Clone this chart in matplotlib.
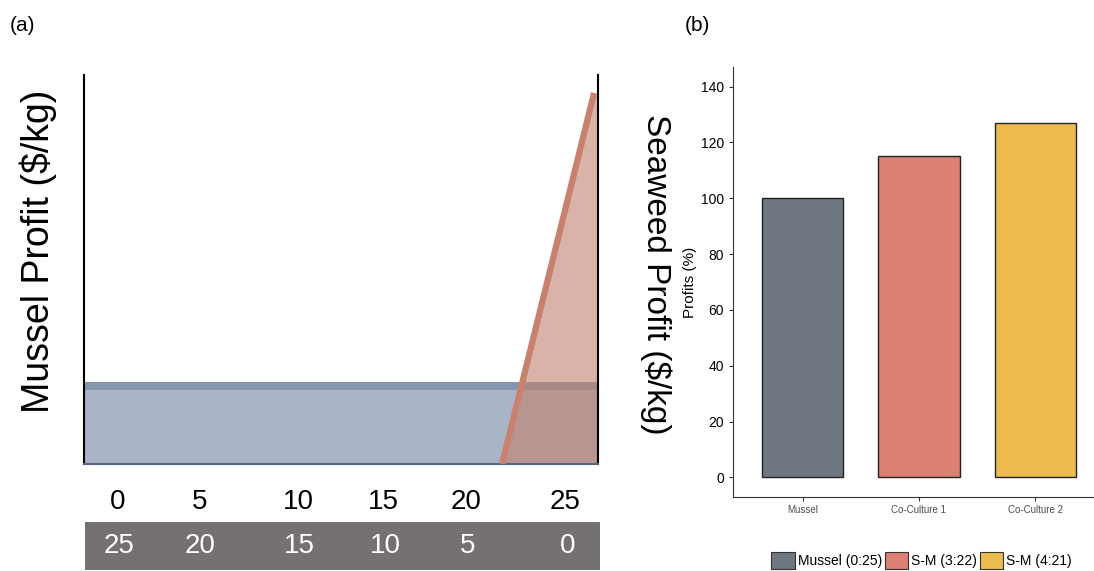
import matplotlib.pyplot as plt
import numpy as np
from matplotlib.patches import Patch

plt.rcParams["font.family"] = ["Liberation Sans", "DejaVu Sans"]

# panel (a): schematic profit curves (axis-fraction units)
mussel_x = [0.0, 1.0]
mussel_level = [0.21, 0.21]
seaweed_x = [0.813, 0.992, 1.0]
seaweed_y = [0.0, 0.954, 0.954]
tick_pos = [0.066, 0.224, 0.416, 0.582, 0.743, 0.936]
mussel_ticks = ["0", "5", "10", "15", "20", "25"]
seaweed_ticks = ["25", "20", "15", "10", "5", "0"]

# panel (b): relative profits
categories = ["Mussel", "Co-Culture 1", "Co-Culture 2"]
profits = [100, 115, 127]
legend_labels = ["Mussel (0:25)", "S-M (3:22)", "S-M (4:21)"]
bar_colors = ["#6e7782", "#db8073", "#ecbb4d"]

fig = plt.figure(figsize=(10.94, 5.71), dpi=100)

# ---- panel (a)
ax = fig.add_axes([0.0768, 0.1874, 0.470, 0.681])
ax.set_xlim(0, 1)
ax.set_ylim(0, 1)
ax.fill_between(mussel_x, 0, mussel_level, color="#a9b5c6", lw=0, zorder=1)
ax.fill_between(mussel_x, np.array(mussel_level) - 0.02, mussel_level,
                color="#8396ae", lw=0, zorder=1)
ax.fill_between(seaweed_x + [1.0], seaweed_y + [0.0], 0, color="#c2816f",
                alpha=0.6, lw=0, zorder=2)
ax.plot(seaweed_x[:2], seaweed_y[:2], color="#c8806f", lw=4.5,
        solid_capstyle="butt", zorder=3)
ax.spines["top"].set_visible(False)
ax.spines["left"].set_linewidth(1.5)
ax.spines["right"].set_linewidth(1.5)
ax.spines["bottom"].set_color("#55657a")
ax.spines["bottom"].set_linewidth(1.5)
ax.set_yticks([])
ax.set_xticks(tick_pos)
ax.set_xticklabels(mussel_ticks, fontsize=20)
ax.tick_params(axis="x", length=0, pad=18)
fig.text(0.035, 0.559, "Mussel Profit ($/kg)", rotation=90, fontsize=27,
         ha="center", va="center")
fig.text(0.599, 0.52, "Seaweed Profit ($/kg)", rotation=-90, fontsize=24,
         ha="center", va="center")

# gray strip with seaweed counts
ax2 = fig.add_axes([0.0777, 0.002, 0.471, 0.084])
ax2.set_xlim(0, 1)
ax2.set_ylim(0, 1)
ax2.set_facecolor("#757170")
for s in ax2.spines.values():
    s.set_visible(False)
ax2.set_xticks([])
ax2.set_yticks([])
for p, t in zip(tick_pos, seaweed_ticks):
    ax2.text(p, 0.5, t, color="white", fontsize=20, ha="center", va="center")

fig.text(0.009, 0.955, "(a)", fontsize=15, ha="left", va="center")
fig.text(0.626, 0.955, "(b)", fontsize=15, ha="left", va="center")

# ---- panel (b)
bx = fig.add_axes([0.670, 0.1296, 0.340, 0.753])
x = np.arange(1, len(categories) + 1)
bx.bar(x, profits, width=0.7, color=bar_colors, edgecolor="#222222", lw=1.0)
bx.set_xlim(0.4, 3.6)
bx.set_ylim(-7, 147)
bx.set_yticks(range(0, 141, 20))
bx.set_xticks(x)
bx.set_xticklabels(categories, fontsize=7, color="#4d4d4d")
bx.tick_params(axis="y", labelsize=10, colors="#333333", length=3)
bx.tick_params(axis="y", labelcolor="black")
bx.tick_params(axis="x", length=3, color="#333333", pad=3)
for side in ("top", "right"):
    bx.spines[side].set_visible(False)
bx.spines["left"].set_color("#333333")
bx.spines["bottom"].set_color("#333333")
bx.set_ylabel("Profits (%)", fontsize=11, labelpad=3)

handles = [Patch(facecolor=c, edgecolor="#333333", lw=0.8) for c in bar_colors]
fig.legend(handles, legend_labels, loc="center left",
           bbox_to_anchor=(0.700, 0.018), ncol=3, frameon=False, fontsize=10,
           handlelength=1.7, handleheight=1.5, handletextpad=0.2,
           columnspacing=0.2, borderaxespad=0)

fig.savefig("out.png", dpi=100)
